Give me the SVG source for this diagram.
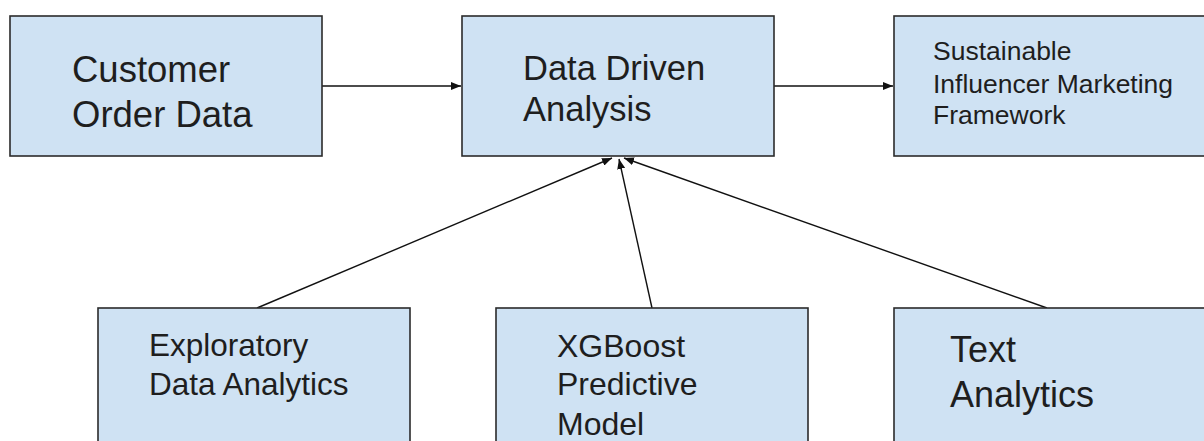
<svg xmlns="http://www.w3.org/2000/svg" width="1204" height="441" viewBox="0 0 1204 441">
<style>
.box{fill:#cfe2f3;stroke:#2b2b2b;stroke-width:1.6}
.t{font-family:"Liberation Sans",Arial,sans-serif;fill:#1e1e1e}
.c{stroke:#111;stroke-width:1.4;fill:none;marker-end:url(#ah)}
</style>
<defs>
<marker id="ah" markerWidth="10" markerHeight="8" refX="10" refY="4" orient="auto" markerUnits="userSpaceOnUse">
<path d="M0,0 L10,4 L0,8 z" fill="#111"/>
</marker>
</defs>
<rect width="1204" height="441" fill="#ffffff"/>
<g id="connectors">
<line class="c" x1="322" y1="86" x2="461" y2="86"/>
<line class="c" x1="774" y1="86" x2="893" y2="86"/>
<line class="c" x1="257" y1="308" x2="612" y2="158"/>
<line class="c" x1="652" y1="308" x2="619" y2="159"/>
<line class="c" x1="1047" y1="308" x2="624" y2="158"/>
</g>
<g id="customer">
<rect class="box" x="10" y="16" width="312" height="140"/>
<text class="t" font-size="36.5" x="72" y="82">Customer</text>
<text class="t" font-size="36.5" x="72" y="127">Order Data</text>
</g>
<g id="analysis">
<rect class="box" x="462" y="16" width="312" height="140"/>
<text class="t" font-size="34.5" x="523" y="80">Data Driven</text>
<text class="t" font-size="34.5" x="523" y="120.5">Analysis</text>
</g>
<g id="framework">
<rect class="box" x="894" y="16" width="320" height="140"/>
<text class="t" font-size="26.5" x="933" y="60">Sustainable</text>
<text class="t" font-size="26.5" x="933" y="92.5">Influencer Marketing</text>
<text class="t" font-size="26.5" x="933" y="124">Framework</text>
</g>
<g id="eda">
<rect class="box" x="98" y="308" width="312" height="150"/>
<text class="t" font-size="31.5" x="149" y="356">Exploratory</text>
<text class="t" font-size="31.5" x="149" y="395">Data Analytics</text>
</g>
<g id="xgboost">
<rect class="box" x="496" y="308" width="312" height="150"/>
<text class="t" font-size="32" x="557" y="356.5">XGBoost</text>
<text class="t" font-size="32" x="557" y="395">Predictive</text>
<text class="t" font-size="32" x="557" y="435">Model</text>
</g>
<g id="text">
<rect class="box" x="894" y="308" width="320" height="150"/>
<text class="t" font-size="36" x="950" y="362">Text</text>
<text class="t" font-size="36" x="950" y="407">Analytics</text>
</g>
</svg>
